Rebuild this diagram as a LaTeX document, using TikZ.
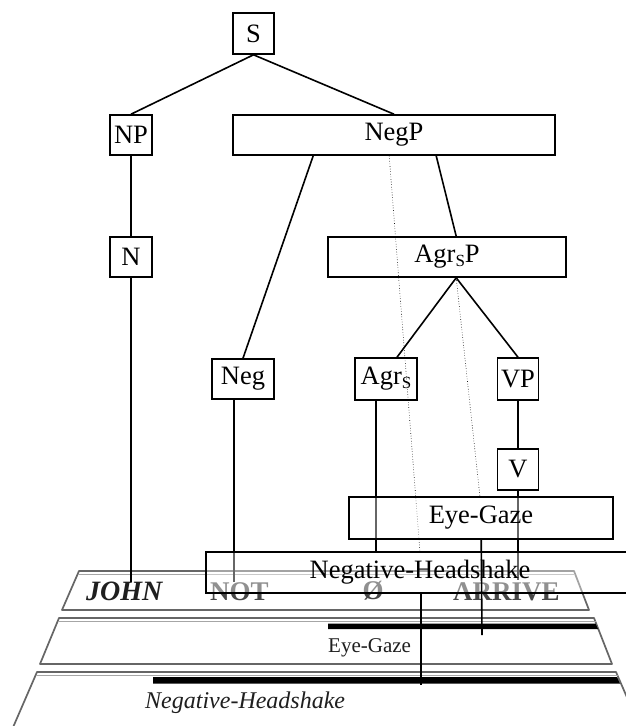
\documentclass[tikz,border=0pt]{standalone}
\usepackage{fontspec}
\setmainfont{Liberation Serif}
\usetikzlibrary{calc}
% subscript used in Agr_S labels
\newcommand{\agrsub}{\raisebox{-0.28ex}{\fontsize{17}{17}\selectfont S}}
\begin{document}
\begin{tikzpicture}[x=1pt,y=-1pt,
  cat/.style={draw, line width=1.6pt, inner sep=0pt, fill=white,
    font=\fontsize{26.5}{26.5}\selectfont},
  track/.style={cat, fill opacity=0.4, text opacity=1},
  branch/.style={line width=1.6pt},
  trace/.style={line width=0.6pt, dotted},
  tierline/.style={draw=black!60, line width=1.7pt, line join=round},
  tierinner/.style={draw=black!35, line width=0.9pt},
  gloss/.style={inner sep=0pt, font=\fontsize{27}{27}\selectfont\bfseries, text=black!72},
]
\clip (0,0) rectangle (626,726);
\fill[white] (0,0) rectangle (626,726);

% ---- annotation tiers (gloss line and the two non-manual tracks)
\draw[tierline] (79,571) -- (574,571) -- (589,610) -- (62,610) -- cycle;
\draw[tierinner] (78,574) -- (575,574);
\draw[tierline] (59,618) -- (594,618) -- (612,664) -- (40,664) -- cycle;
\draw[tierinner] (58,621.5) -- (595.5,621.5);
\draw[tierline] (11,732) -- (37,672) -- (616,672) -- (642,732);
\draw[tierinner] (36,675.5) -- (617.5,675.5);

\fill[black] (328,623.5) -- (595.5,623.5) -- (598,629) -- (328,629) -- cycle;
\fill[black] (153,677) -- (617,677) -- (620,683.5) -- (153,683.5) -- cycle;

\node[gloss, anchor=base west, text=black!88, font=\fontsize{28}{28}\selectfont\bfseries\itshape] (john) at (86,600) {JOHN};
\node[gloss, anchor=base west] (not) at (210,600) {NOT};
\node[gloss, anchor=base] (null) at (373,599) {Ø};
\node[gloss, anchor=base west] (arrive) at (453,600) {ARRIVE};
\node[inner sep=0pt, anchor=base west, text=black!88, font=\fontsize{21}{21}\selectfont] (eglabel) at (328,652) {Eye-Gaze};
\node[inner sep=0pt, anchor=base west, text=black!88, font=\fontsize{24}{24}\selectfont\itshape] (nhlabel) at (145,708) {Negative-Headshake};

% ---- syntactic tree
\node[cat, minimum width=41pt, minimum height=41pt] (s) at (253.5,33.5) {S};
\node[cat, minimum width=42pt, minimum height=40pt] (np) at (131,135) {NP};
\node[cat, minimum width=322pt, minimum height=40pt] (negp) at (394,135) {NegP};
\node[cat, minimum width=42pt, minimum height=40pt] (n) at (131,257) {N};
\node[cat, minimum width=238pt, minimum height=40pt] (agrsp) at (447,257) {Agr\agrsub P};
\node[cat, minimum width=62pt, minimum height=40pt] (neg) at (243,379) {Neg};
\node[cat, minimum width=62pt, minimum height=42pt] (agrs) at (386,379) {Agr\agrsub};
\node[cat, minimum width=41pt, minimum height=42pt] (vp) at (518,379) {VP};
\node[cat, minimum width=41pt, minimum height=41pt] (v) at (518,469.5) {V};

\coordinate (negp-l) at ($(negp.south west)+(81,0)$);
\coordinate (negp-r) at ($(negp.south west)+(204,0)$);
\coordinate (negp-t) at ($(negp.south west)+(157,0)$);
\coordinate (agrsp-in) at ($(agrsp.north west)+(129,0)$);
\coordinate (agrsp-out) at ($(agrsp.south west)+(129,0)$);
\coordinate (agrs-in) at ($(agrs.north)+(11,0)$);
\coordinate (agrs-out) at ($(agrs.south)+(-10,0)$);
\coordinate (neg-out) at ($(neg.south)+(-9,0)$);

\coordinate (john-end) at (131,582);
\coordinate (not-end) at (234,582);
\coordinate (null-end) at (376,552);
\coordinate (v-end) at (518,580);

\draw[branch] (s.south) -- (np.north);
\draw[branch] (s.south) -- (negp.north);
\draw[branch] (np.south) -- (n.north);
\draw[branch] (n.south) -- (john-end);
\draw[branch] (negp-l) -- (neg.north);
\draw[branch] (negp-r) -- (agrsp-in);
\draw[branch] (agrsp-out) -- (agrs-in);
\draw[branch] (agrsp-out) -- (vp.north);
\draw[branch] (vp.south) -- (v.north);
\draw[branch] (neg-out) -- (not-end);
\draw[branch] (agrs-out) -- (null-end);
\draw[branch] (v.south) -- (v-end);

% ---- non-manual tracks and their scope lines
\coordinate (eg-t) at (480,497);
\coordinate (nh-t) at (420,552);
\draw[trace] (negp-t) -- (nh-t);
\draw[trace] (agrsp-out) -- (eg-t);

\node[track, minimum width=264pt, minimum height=42pt] (eg) at (481,518) {Eye-Gaze};
\draw[branch] (agrs-out |- eg.south) -- (null-end);
\draw[branch] (v.south |- eg.south) -- (v-end);

\node[track, minimum width=428pt, minimum height=41pt] (nh) at (420,572.5) {Negative-Headshake};

\coordinate (eg-out) at ($(eg.south west)+(133,0)$);
\coordinate (eg-bar) at (482,635);
\coordinate (nh-out) at (421,593);
\coordinate (nh-bar) at (421,685);
\draw[branch] (eg-out) -- (eg-bar);
\draw[branch] (nh-out) -- (nh-bar);
\end{tikzpicture}
\end{document}
